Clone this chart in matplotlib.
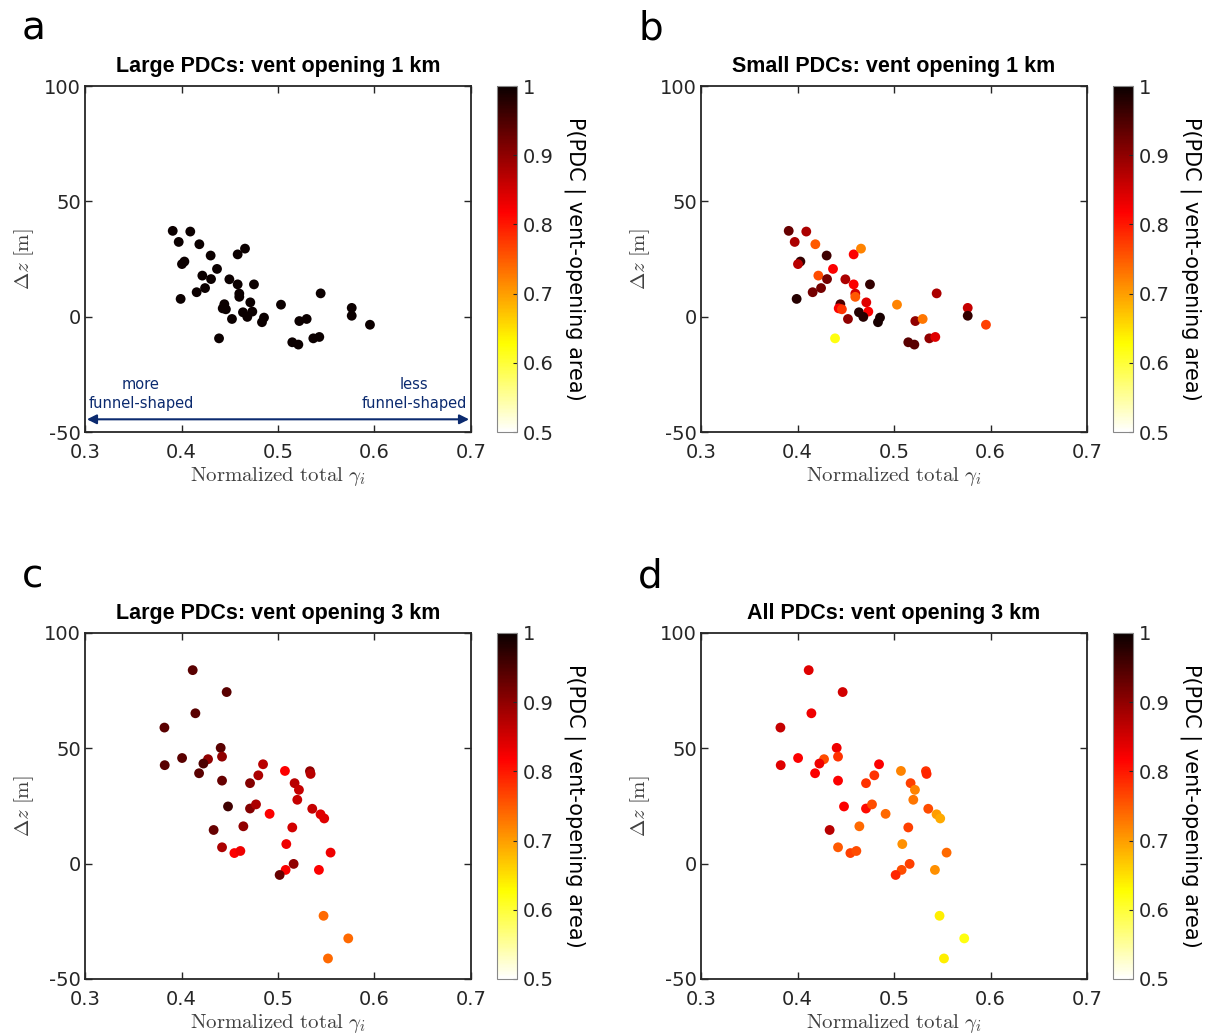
import numpy as np
import matplotlib
matplotlib.use('Agg')
import matplotlib.pyplot as plt

# ---- 1 km vent opening (panels a, b share positions) ----
gam_1km = [0.3909, 0.4091, 0.3971, 0.4185, 0.4302, 0.4582, 0.4658, 0.4030, 0.4005,
           0.4368, 0.4216, 0.4306, 0.4496, 0.4582, 0.4751, 0.4244, 0.4157, 0.4599,
           0.4599, 0.3991, 0.5442, 0.5031, 0.4713, 0.4444, 0.4427, 0.4460, 0.4637,
           0.4734, 0.4682, 0.4523, 0.4855, 0.4834, 0.5221, 0.5297, 0.5764, 0.5764,
           0.5953, 0.4389, 0.5148, 0.5211, 0.5366, 0.5428]
dz_1km = [37.2, 36.9, 32.4, 31.4, 26.5, 27.0, 29.5, 23.9, 22.8,
          20.7, 17.8, 16.3, 16.2, 14.0, 14.0, 12.4, 10.6, 10.0,
          8.6, 7.7, 10.1, 5.2, 6.2, 5.4, 3.6, 3.2, 1.9,
          2.2, -0.1, -1.0, -0.4, -2.4, -1.9, -1.0, 3.8, 0.4,
          -3.5, -9.4, -11.1, -12.1, -9.4, -8.8]
p_small_1km = [0.93, 0.88, 0.88, 0.75, 0.96, 0.82, 0.72, 0.97, 0.87,
               0.82, 0.76, 0.92, 0.88, 0.82, 0.97, 0.92, 0.92, 0.85,
               0.75, 0.98, 0.88, 0.72, 0.84, 0.95, 0.82, 0.78, 0.98,
               0.82, 0.98, 0.90, 0.99, 0.99, 0.90, 0.73, 0.86, 0.97,
               0.77, 0.62, 0.94, 0.94, 0.90, 0.84]
p_large_1km = [1.0] * len(gam_1km)

# ---- 3 km vent opening (panels c, d share positions) ----
gam_3km = [0.4116, 0.4468, 0.4144, 0.3823, 0.4406, 0.4420, 0.4006, 0.4275, 0.4227,
           0.3826, 0.4845, 0.4182, 0.5072, 0.4796, 0.4420, 0.4710, 0.5172, 0.5217,
           0.5200, 0.4482, 0.4710, 0.4772, 0.4913, 0.4641, 0.5148, 0.4333, 0.5086,
           0.4420, 0.4548, 0.4610, 0.5162, 0.5079, 0.5017, 0.5331, 0.5338, 0.5355,
           0.5441, 0.5479, 0.5545, 0.5424, 0.5472, 0.5728, 0.5518]
dz_3km = [83.9, 74.4, 65.2, 59.0, 50.2, 46.4, 45.8, 45.3, 43.4,
          42.7, 43.1, 39.2, 40.2, 38.3, 36.0, 34.9, 34.9, 32.0,
          27.7, 24.8, 23.9, 25.7, 21.6, 16.2, 15.7, 14.6, 8.5,
          7.1, 4.6, 5.5, -0.1, -2.7, -4.9, 40.1, 38.9, 23.8,
          21.4, 19.6, 4.8, -2.7, -22.6, -32.4, -41.1]
p_large_3km = [0.94, 0.94, 0.94, 0.94, 0.94, 0.90, 0.94, 0.90, 0.95,
               0.94, 0.87, 0.94, 0.82, 0.88, 0.93, 0.91, 0.87, 0.86,
               0.86, 0.96, 0.91, 0.88, 0.82, 0.90, 0.85, 0.93, 0.83,
               0.88, 0.82, 0.83, 0.90, 0.82, 0.93, 0.90, 0.87, 0.86,
               0.84, 0.84, 0.83, 0.82, 0.74, 0.74, 0.74]
p_all_3km = [0.84, 0.85, 0.83, 0.86, 0.83, 0.78, 0.82, 0.76, 0.83,
             0.84, 0.82, 0.82, 0.72, 0.78, 0.82, 0.78, 0.77, 0.72,
             0.73, 0.82, 0.81, 0.76, 0.74, 0.74, 0.77, 0.87, 0.71,
             0.75, 0.77, 0.76, 0.77, 0.76, 0.79, 0.78, 0.79, 0.76,
             0.70, 0.69, 0.74, 0.71, 0.64, 0.62, 0.64]

panels = [
    ('a', 'Large PDCs: vent opening 1 km', gam_1km, dz_1km, p_large_1km),
    ('b', 'Small PDCs: vent opening 1 km', gam_1km, dz_1km, p_small_1km),
    ('c', 'Large PDCs: vent opening 3 km', gam_3km, dz_3km, p_large_3km),
    ('d', 'All PDCs: vent opening 3 km', gam_3km, dz_3km, p_all_3km),
]

W, H = 1214, 1035
plt.rcParams['mathtext.fontset'] = 'cm'
plt.rcParams['axes.unicode_minus'] = False
fig = plt.figure(figsize=(W / 100, H / 100), dpi=100)
fig.patch.set_facecolor('white')

cmap = plt.get_cmap('hot_r')
EDGE = '#262626'
NAVY = '#0b2a6f'

# pixel boxes: (left, top) of each axes
boxes = [(85, 86), (701, 86), (85, 633), (701, 633)]
AW, AH = 386, 346

for (letter, title, gx, dz, prob), (lx, ty) in zip(panels, boxes):
    ax = fig.add_axes([lx / W, 1 - (ty + AH) / H, AW / W, AH / H])
    sc = ax.scatter(gx, dz, c=prob, cmap=cmap, vmin=0.5, vmax=1.0, s=50,
                    edgecolors='none', zorder=3)
    ax.set_xlim(0.3, 0.7)
    ax.set_ylim(-50, 100)
    ax.set_xticks([0.3, 0.4, 0.5, 0.6, 0.7])
    ax.set_yticks([-50, 0, 50, 100])
    ax.tick_params(direction='in', top=True, right=True, labelsize=14,
                   colors=EDGE, length=5, width=1.0)
    ax.tick_params(axis='x', pad=8)
    ax.tick_params(axis='y', pad=3)
    for sp in ax.spines.values():
        sp.set_edgecolor(EDGE)
        sp.set_linewidth(1.3)
    ax.set_title(title, fontsize=15.5, fontweight='bold', family='Liberation Sans',
                 pad=10)
    ax.set_xlabel(r'$\mathrm{Normalized\ total}\ \gamma_i$', fontsize=15,
                  color='#404040', labelpad=2)
    ax.set_ylabel(r'$\Delta z\ [\mathrm{m}]$', fontsize=15, color='#404040',
                  labelpad=6)
    fig.text((lx - 63) / W, 1 - (ty - 46) / H, letter, fontsize=28,
             family='DejaVu Sans', va='baseline', ha='left')

    cax = fig.add_axes([(lx + 412) / W, 1 - (ty + AH) / H, 20 / W, AH / H])
    cb = fig.colorbar(sc, cax=cax)
    cb.set_ticks([0.5, 0.6, 0.7, 0.8, 0.9, 1.0])
    cb.set_ticklabels(['0.5', '0.6', '0.7', '0.8', '0.9', '1'])
    cb.ax.tick_params(direction='in', labelsize=14, length=3, width=0.8,
                      colors=EDGE, pad=4)
    cb.outline.set_edgecolor('#888888')
    cb.outline.set_linewidth(0.8)
    cb.set_label('P(PDC | vent-opening area)', fontsize=15, rotation=270,
                 labelpad=2, va='top')
    cb.ax.yaxis.set_label_coords(4.4, 0.5)

    if letter == 'a':
        ax.annotate('', xy=(0.302, -44.5), xytext=(0.698, -44.5),
                    arrowprops=dict(arrowstyle='<|-|>', color=NAVY, lw=1.5,
                                    mutation_scale=14, shrinkA=0, shrinkB=0))
        ax.text(0.358, -40.8, 'more\nfunnel-shaped', fontsize=10.5, color=NAVY,
                ha='center', va='bottom', linespacing=1.3)
        ax.text(0.641, -40.8, 'less\nfunnel-shaped', fontsize=10.5, color=NAVY,
                ha='center', va='bottom', linespacing=1.3)

fig.savefig('out.png', dpi=100, facecolor='white')
print('saved out.png')
